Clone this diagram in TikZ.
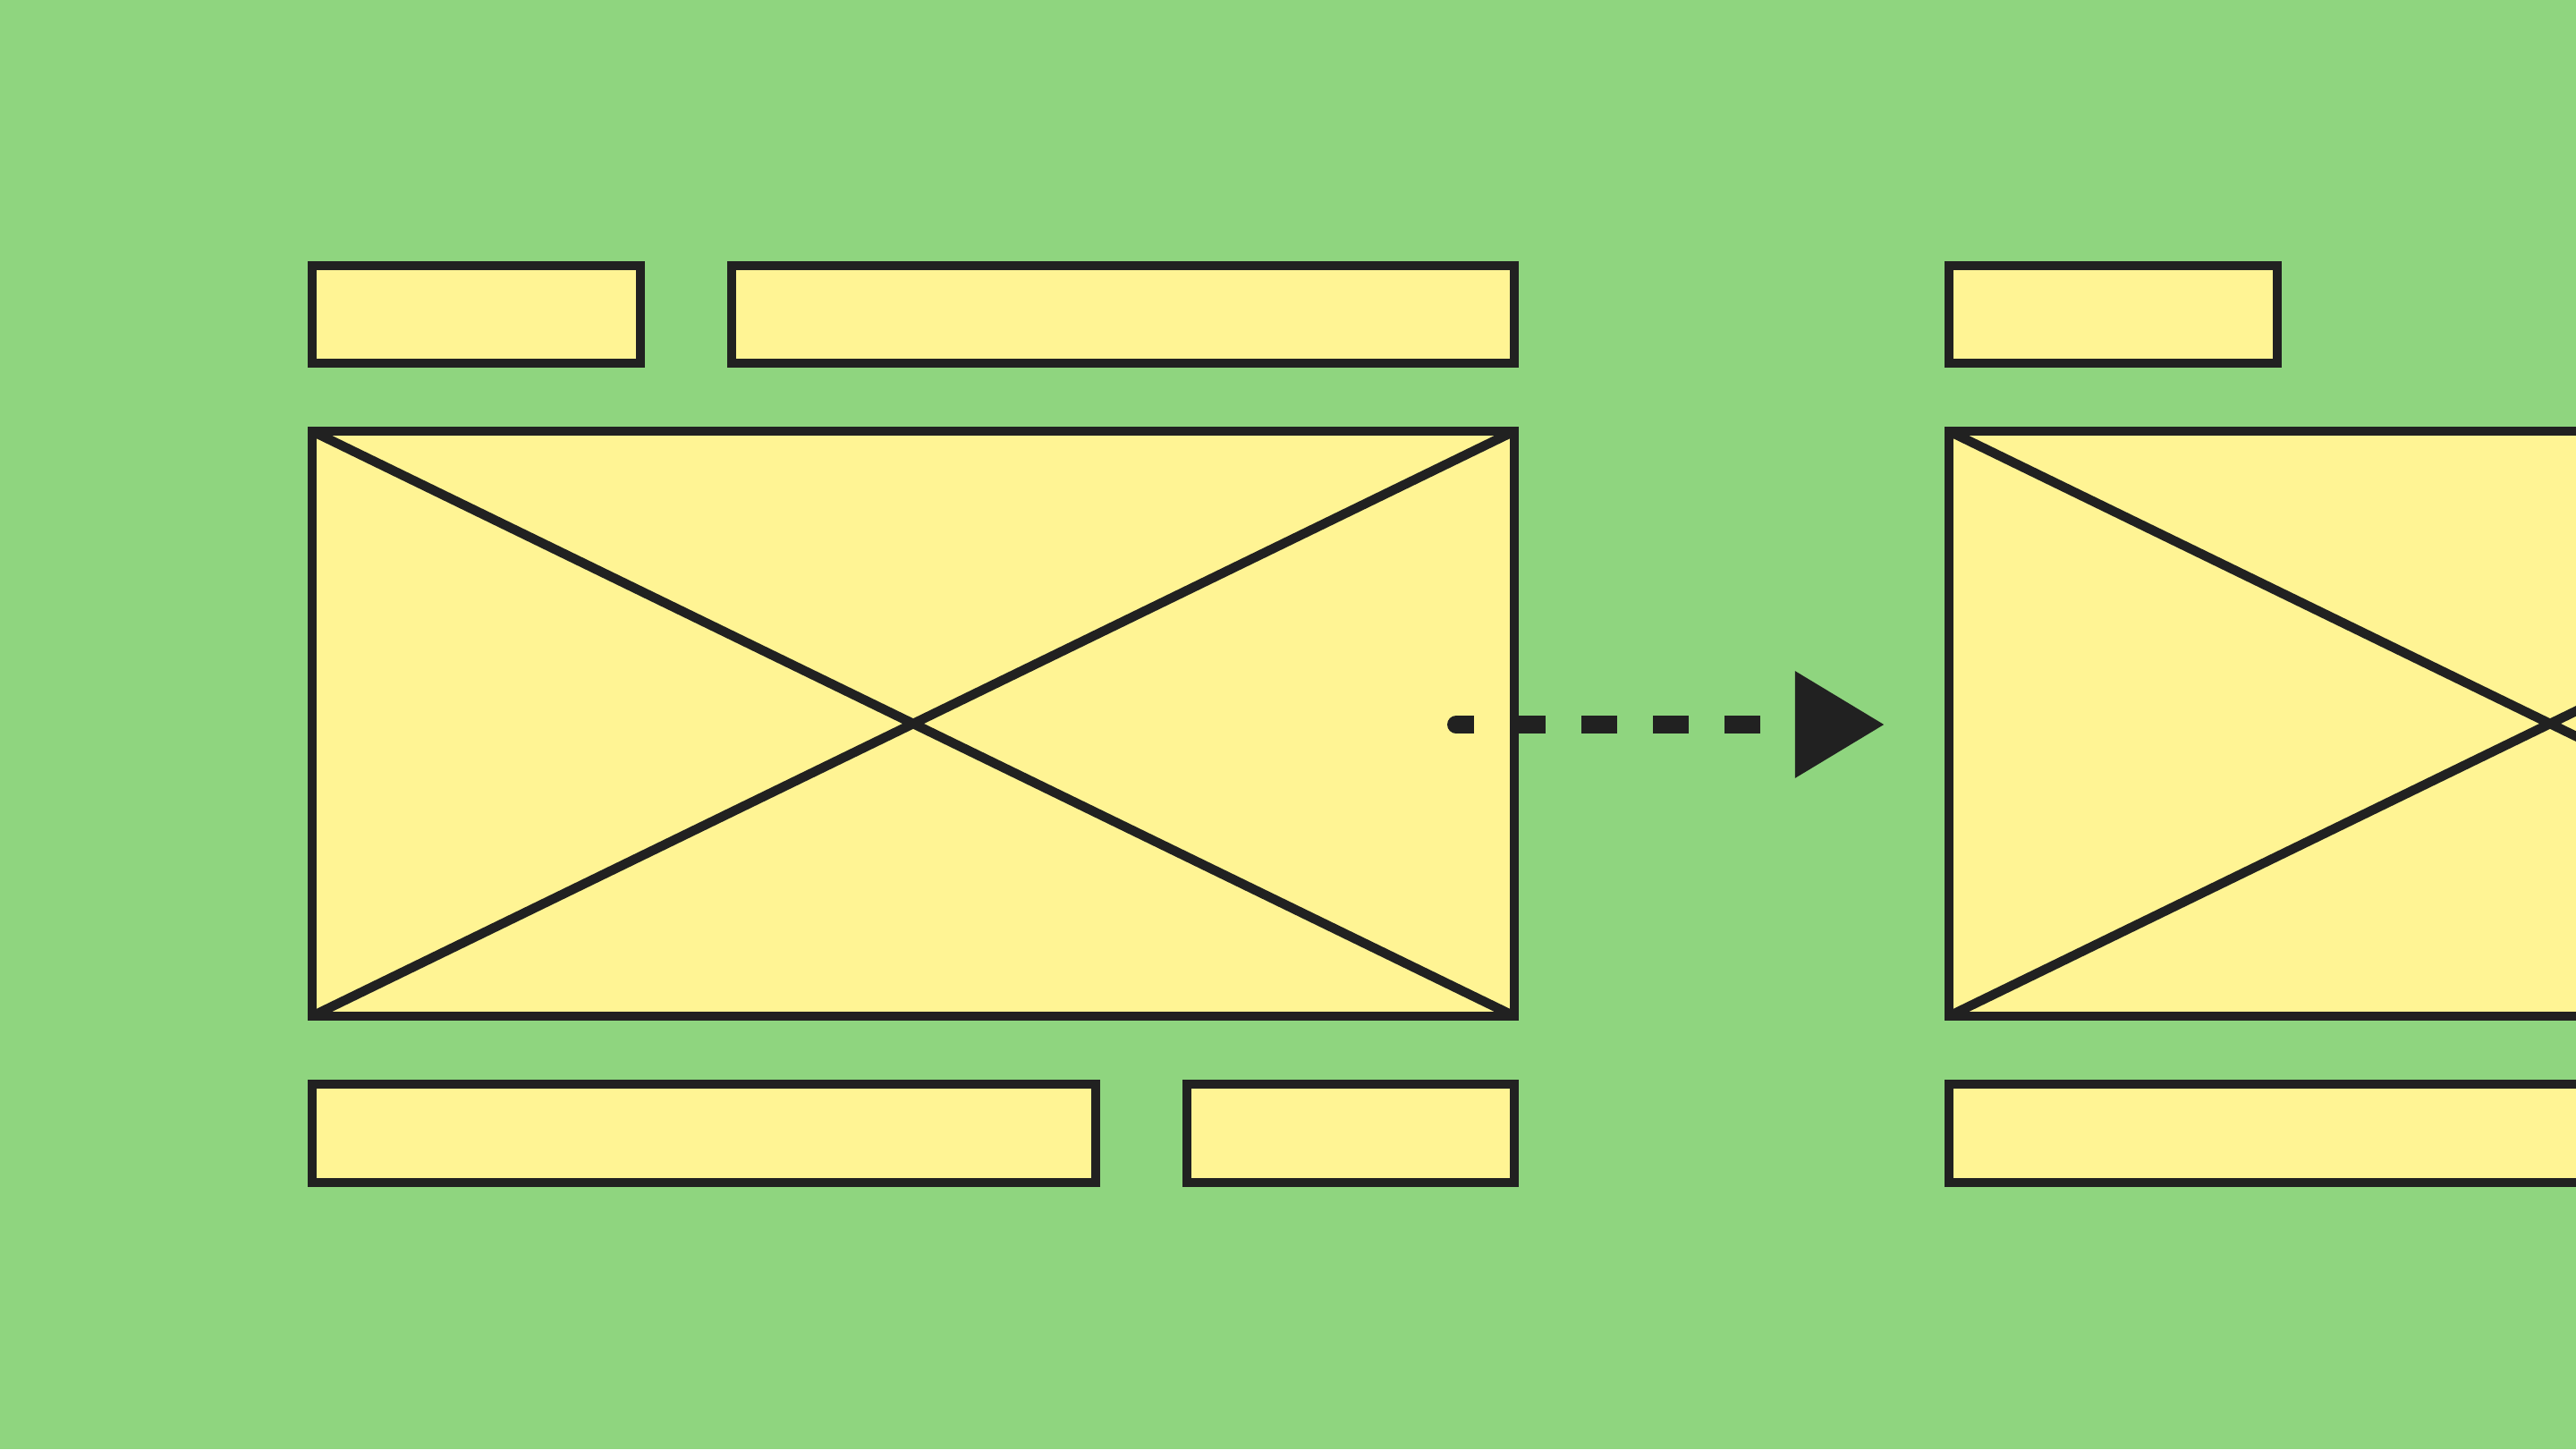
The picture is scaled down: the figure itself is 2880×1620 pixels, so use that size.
\documentclass[tikz,border=0pt]{standalone}
\usepackage{xcolor}
\usetikzlibrary{arrows.meta}
\definecolor{bggreen}{HTML}{8FD57F}
\definecolor{boxyellow}{HTML}{FFF494}
\definecolor{inkblack}{HTML}{212121}
\tikzset{
    % flat yellow block with a dark outline
    block/.style={draw=inkblack, fill=boxyellow, line width=0.105cm},
    % thin dark stroke for the image cross
    cross/.style={draw=inkblack, line width=0.105cm},
    % dashed link with a solid head
    flow/.style={
        draw=inkblack,
        line width=0.2cm,
        dash pattern=on 0.2cm off 0.4cm on 0.4cm off 0.4cm on 0.4cm off 0.4cm
            on 0.4cm off 0.4cm on 0.4cm off 2cm,
        -{Triangle[length=1cm, width=1.14cm]}
    }
}

\begin{document}
\begin{tikzpicture}[x=0.01cm, y=-0.01cm]
    \useasboundingbox (0,0) rectangle (2880,1620);
    \fill[bggreen] (0,0) rectangle (2880,1620);
    \clip (0,0) rectangle (2880,1620);
    % two page layouts, the second one shifted right
    \foreach \s/\dx in {pa/0, pb/1830} {
        \coordinate (\s-nw) at (349+\dx,482);
        \coordinate (\s-ne) at (1693+\dx,482);
        \coordinate (\s-sw) at (349+\dx,1136);
        \coordinate (\s-se) at (1693+\dx,1136);
        \draw[block] (\s-nw) rectangle (\s-se);
        \draw[cross] (\s-nw) -- (\s-se);
        \draw[cross] (\s-sw) -- (\s-ne);
        \draw[block] (349+\dx,297) rectangle (716+\dx,406);
        \draw[block] (349+\dx,1212) rectangle (1225+\dx,1322);
    }
    \draw[block] (818,297) rectangle (1693,406);
    \draw[block] (1327,1212) rectangle (1693,1322);
    \coordinate (from) at (1628,810);
    \coordinate (to) at (2107,810);
    \fill[inkblack] (from) circle[radius=0.1cm];
    \draw[flow] (from) -- (to);
\end{tikzpicture}
\end{document}
